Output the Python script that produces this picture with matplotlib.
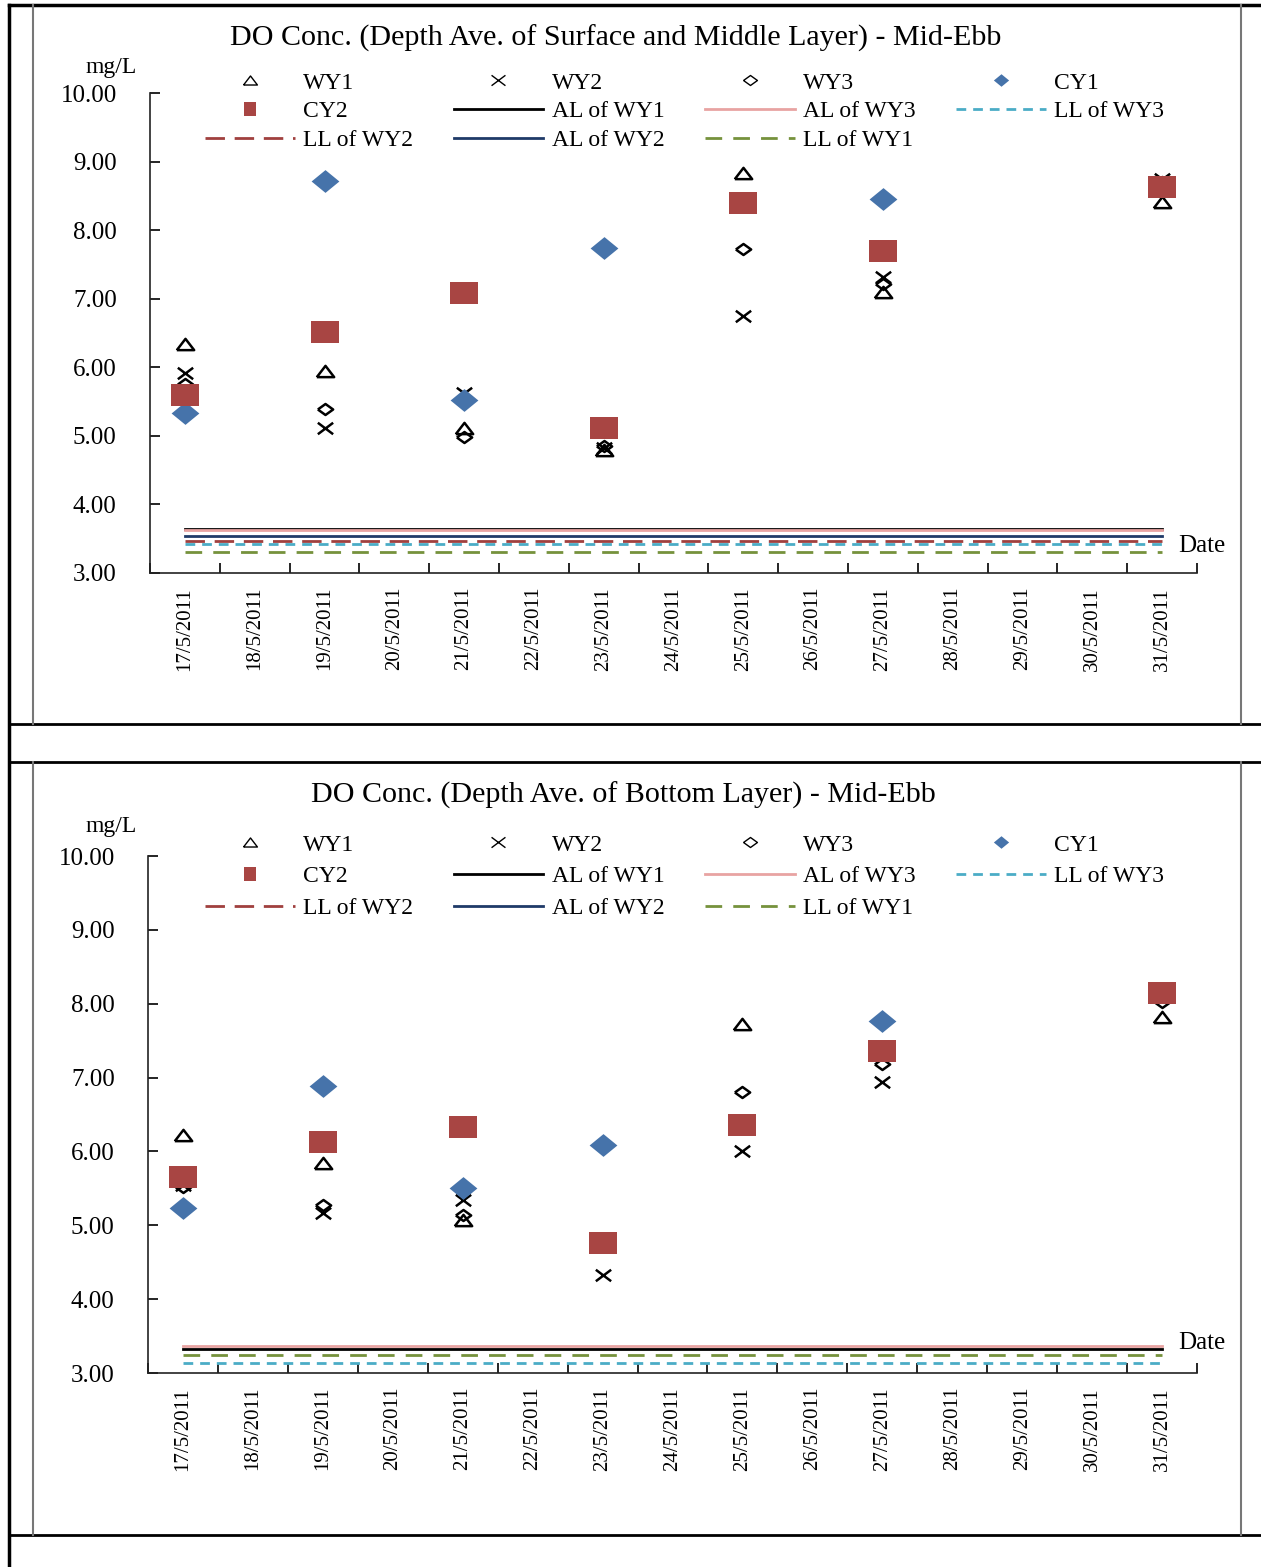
import numpy as np
import matplotlib.pyplot as plt
from matplotlib.lines import Line2D
from matplotlib.path import Path

plt.rcParams["font.family"] = ["Liberation Serif", "DejaVu Serif"]

nan = np.nan
dates = ["17/5/2011", "18/5/2011", "19/5/2011", "20/5/2011", "21/5/2011",
         "22/5/2011", "23/5/2011", "24/5/2011", "25/5/2011", "26/5/2011",
         "27/5/2011", "28/5/2011", "29/5/2011", "30/5/2011", "31/5/2011"]

point_names = ["WY1", "WY2", "WY3", "CY1", "CY2"]
level_names = ["AL of WY1", "AL of WY3", "LL of WY3", "LL of WY2", "AL of WY2", "LL of WY1"]

# depth average of surface and middle layer (mg/L)
sm_wy1 = [6.34, nan, 5.95, nan, 5.11, nan, 4.79, nan, 8.84, nan, 7.10, nan, nan, nan, 8.41]
sm_wy2 = [5.92, nan, 5.12, nan, 5.63, nan, 4.83, nan, 6.75, nan, 7.32, nan, nan, nan, 8.75]
sm_wy3 = [5.75, nan, 5.39, nan, 4.98, nan, 4.85, nan, 7.72, nan, 7.22, nan, nan, nan, 8.70]
sm_cy1 = [5.34, nan, 8.71, nan, 5.53, nan, 7.74, nan, nan, nan, 8.45, nan, nan, nan, nan]
sm_cy2 = [5.60, nan, 6.52, nan, 7.09, nan, 5.12, nan, 8.39, nan, 7.70, nan, nan, nan, 8.63]
sm_levels = [3.64, 3.62, 3.43, 3.46, 3.54, 3.31]

# depth average of bottom layer (mg/L)
bt_wy1 = [6.22, nan, 5.84, nan, 5.07, nan, 4.75, nan, 7.73, nan, 7.35, nan, nan, nan, 7.82]
bt_wy2 = [5.55, nan, 5.16, nan, 5.34, nan, 4.33, nan, 6.01, nan, 6.94, nan, nan, nan, 8.12]
bt_wy3 = [5.52, nan, 5.27, nan, 5.14, nan, 4.78, nan, 6.80, nan, 7.18, nan, nan, nan, 8.02]
bt_cy1 = [5.24, nan, 6.88, nan, 5.50, nan, 6.09, nan, nan, nan, 7.77, nan, nan, nan, nan]
bt_cy2 = [5.65, nan, 6.13, nan, 6.33, nan, 4.76, nan, 6.36, nan, 7.36, nan, nan, nan, 8.15]
bt_levels = [3.32, 3.36, 3.14, nan, nan, 3.24]

BLUE = "#4673AA"
RED = "#A84543"

tri = [(-1, -0.65), (1, -0.65), (0, 0.65), (-1, -0.65)]
cross = Path([(-1, -0.75), (1, 0.75), (-1, 0.75), (1, -0.75)],
             [Path.MOVETO, Path.LINETO, Path.MOVETO, Path.LINETO])
dia = [(-1, 0), (0, 0.72), (1, 0), (0, -0.72), (-1, 0)]
dia_big = [(-1, 0), (0, 0.82), (1, 0), (0, -0.82), (-1, 0)]
rect = [(-1, -0.78), (1, -0.78), (1, 0.78), (-1, 0.78), (-1, -0.78)]
rect_leg = [(-0.8, -1), (0.8, -1), (0.8, 1), (-0.8, 1), (-0.8, -1)]

marker_styles = {
    "WY1": dict(marker=tri, ms=12.5, mfc="none", mec="black", mew=1.8),
    "WY2": dict(marker=cross, ms=11, mfc="none", mec="black", mew=1.8),
    "WY3": dict(marker=dia, ms=11, mfc="none", mec="black", mew=1.8),
    "CY1": dict(marker=dia_big, ms=20, mfc=BLUE, mec=BLUE, mew=0),
    "CY2": dict(marker=rect, ms=19.5, mfc=RED, mec=RED, mew=0),
}
legend_marker_styles = {
    "WY1": dict(marker=tri, ms=10, mfc="none", mec="black", mew=1.0),
    "WY2": dict(marker=cross, ms=10, mfc="none", mec="black", mew=1.0),
    "WY3": dict(marker=dia, ms=10, mfc="none", mec="black", mew=1.0),
    "CY1": dict(marker=dia_big, ms=11, mfc=BLUE, mec=BLUE, mew=0),
    "CY2": dict(marker=rect_leg, ms=10.5, mfc=RED, mec=RED, mew=0),
}
level_styles = {
    "AL of WY1": dict(color="black", lw=2.0),
    "AL of WY3": dict(color="#E8A3A2", lw=2.0),
    "LL of WY3": dict(color="#4BACC6", lw=2.0, dashes=(3.5, 2.5)),
    "LL of WY2": dict(color="#A0403E", lw=2.0, dashes=(7, 3.5)),
    "AL of WY2": dict(color="#1F3A68", lw=2.0),
    "LL of WY1": dict(color="#76923C", lw=2.0, dashes=(6, 4)),
}

W, H = 1261, 1567
fig = plt.figure(figsize=(W / 100, H / 100), dpi=100)


def fx(px):
    return px / W


def fy(py):
    return 1 - py / H


def draw_panel(rect_px, title, title_xy, values, levels, legend_top, mgl_y, date_y, row_gap):
    left, top, right, bottom = rect_px
    ax = fig.add_axes([fx(left), fy(bottom), fx(right - left), (bottom - top) / H])
    x = np.arange(len(dates))
    for name, y in zip(point_names, values):
        ax.plot(x, y, ls="none", zorder=3, **marker_styles[name])
    for name, v in zip(level_names, levels):
        if np.isnan(v):
            continue
        ax.plot(x, np.full(len(dates), v), zorder=2, **level_styles[name])

    ax.set_xlim(-0.5, len(dates) - 0.5)
    ax.set_ylim(3, 10)
    ax.set_yticks(np.arange(3, 11, 1))
    ax.set_yticklabels(["%.2f" % t for t in np.arange(3, 11, 1)], fontsize=18)
    ax.set_xticks(x)
    ax.set_xticklabels(dates, rotation=90, fontsize=15)
    ax.set_xticks(np.arange(-0.5, len(dates), 1), minor=True)
    ax.tick_params(axis="x", which="major", length=0, pad=10)
    ax.tick_params(axis="x", which="minor", direction="in", length=7, width=1.2)
    ax.tick_params(axis="y", direction="in", length=7, width=1.2, pad=24)
    for s in ["top", "right"]:
        ax.spines[s].set_visible(False)
    for s in ["left", "bottom"]:
        ax.spines[s].set_linewidth(1.2)
        ax.spines[s].set_color("#222222")

    fig.text(fx(title_xy[0]), fy(title_xy[1]), title, ha="center", va="center", fontsize=21.6)
    fig.text(fx(111), fy(mgl_y), "mg/L", ha="center", va="center", fontsize=17)
    fig.text(fx(1178), fy(date_y), "Date", ha="left", va="center", fontsize=18)

    proxies = {n: Line2D([], [], ls="none", **legend_marker_styles[n]) for n in point_names}
    for n in level_names:
        proxies[n] = Line2D([], [], **level_styles[n])
    order = ["WY1", "CY2", "LL of WY2", "WY2", "AL of WY1", "AL of WY2",
             "WY3", "AL of WY3", "LL of WY1", "CY1", "LL of WY3"]
    fig.legend([proxies[n] for n in order], order, ncol=4, loc="upper left",
               bbox_to_anchor=(fx(205), fy(legend_top)), frameon=False, fontsize=17,
               handlelength=3.8, handletextpad=0.35, columnspacing=1.72,
               labelspacing=row_gap, borderpad=0, borderaxespad=0)
    return ax


draw_panel((150, 93, 1197, 573),
           "DO Conc. (Depth Ave. of Surface and Middle Layer) - Mid-Ebb", (616, 38),
           [sm_wy1, sm_wy2, sm_wy3, sm_cy1, sm_cy2], sm_levels, 72, 67, 546, 0.31)
draw_panel((148, 856, 1197, 1373),
           "DO Conc. (Depth Ave. of Bottom Layer) - Mid-Ebb", (623, 795),
           [bt_wy1, bt_wy2, bt_wy3, bt_cy1, bt_cy2], bt_levels, 834, 827, 1343, 0.43)

# table / chart-area borders around the two charts
for (x0, y0, x1, y1, c, lw) in [
    (9, 5, 1261, 5, "black", 2.5),
    (9, 5, 9, 1567, "black", 2.5),
    (9, 724, 1261, 724, "black", 2.0),
    (9, 762, 1261, 762, "black", 2.0),
    (9, 1535, 1261, 1535, "black", 2.0),
    (33, 5, 33, 724, "#777777", 1.5),
    (33, 762, 33, 1535, "#777777", 1.5),
    (1241, 5, 1241, 724, "#777777", 1.5),
    (1241, 762, 1241, 1535, "#777777", 1.5),
]:
    fig.add_artist(Line2D([fx(x0), fx(x1)], [fy(y0), fy(y1)], color=c, lw=lw,
                          transform=fig.transFigure))

fig.savefig("out.png", dpi=100)
